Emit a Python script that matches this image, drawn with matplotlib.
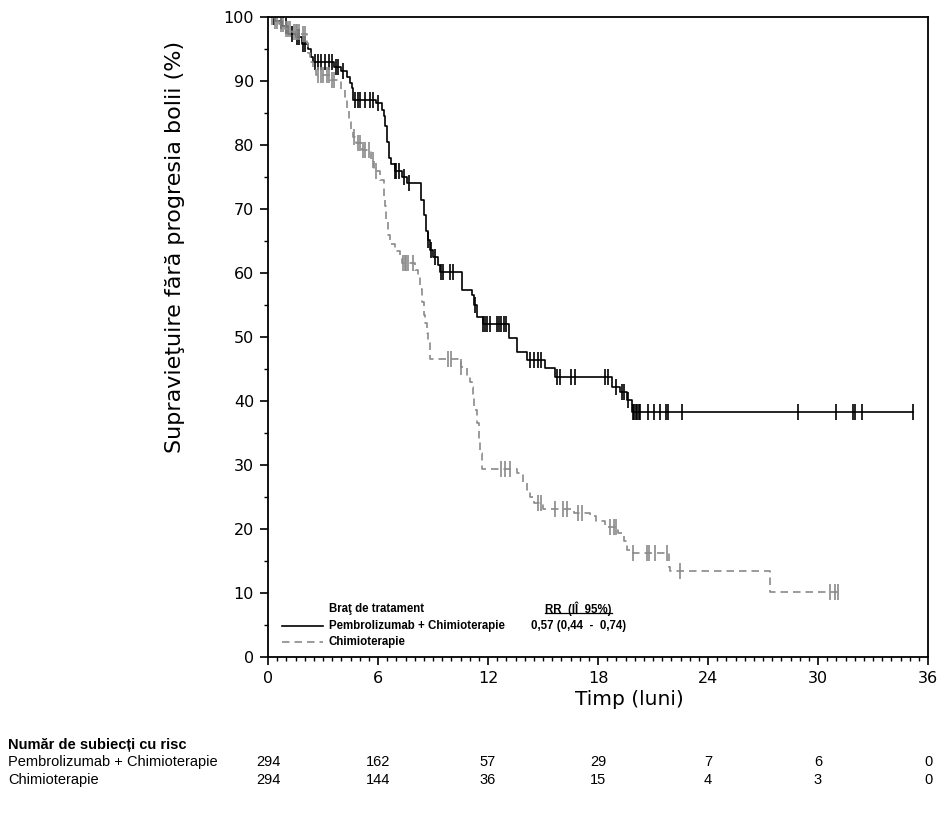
import matplotlib.pyplot as plt
import numpy as np

# Kaplan-Meier steps (time in months, % progression-free)
pem_t = [0, 0.4, 0.75, 1.1, 1.5, 1.84, 2.2, 2.35, 2.45, 3.6, 4.0, 4.3, 4.47, 4.56, 4.65,
         5.9, 6.2, 6.3, 6.4, 6.5, 6.6, 6.7, 6.9, 7.3, 7.6, 8.37, 8.5, 8.6, 8.7, 8.84,
         9.0, 9.29, 9.4, 10.57, 11.1, 11.25, 11.4, 11.7, 13.15, 13.57, 14.1, 15.1,
         15.66, 18.75, 19.2, 19.57, 19.84, 35.2]
pem_s = [100, 99.4, 98.6, 97.3, 96.9, 95.8, 95.0, 93.8, 93.0, 92.2, 91.6, 90.7, 89.7, 88.9, 87.0,
         86.5, 85.5, 84.5, 82.9, 80.5, 78.0, 77.0, 76.0, 75.0, 74.0, 71.4, 69.0, 66.5, 65.2, 63.6,
         62.5, 61.25, 60.2, 57.3, 56.6, 55.0, 53.2, 52.0, 49.8, 47.7, 46.4, 45.1,
         43.8, 42.2, 41.45, 40.2, 38.3, 38.3]
pem_cens = [0.3, 0.7, 1.0, 1.3, 1.6, 1.7, 1.9, 2.0, 2.55, 2.7, 2.9, 3.1, 3.3, 3.5, 3.7, 3.8,
            4.1, 4.75, 4.9, 5.0, 5.3, 5.56, 5.73, 6.0, 6.9, 7.0, 7.15, 7.4, 7.7, 8.75, 8.9,
            9.1, 9.45, 9.55, 9.9, 10.1, 11.3, 11.75, 11.85, 11.95, 12.1, 12.5, 12.6, 12.7,
            12.85, 13.0, 14.3, 14.5, 14.7, 14.9, 15.75, 15.9, 16.55, 16.75, 18.4, 18.55,
            19.0, 19.3, 19.4, 19.65, 19.9, 19.97, 20.05, 20.15, 20.25, 20.3, 20.74, 21.05,
            21.4, 21.7, 21.8, 22.6, 28.9, 31.0, 31.9, 32.0, 32.4, 35.2]

chemo_t = [0, 0.3, 0.6, 0.93, 1.3, 1.8, 2.1, 2.2, 2.3, 2.45, 2.6, 3.4, 4.0, 4.2, 4.3, 4.4,
           4.5, 4.65, 4.8, 5.1, 5.6, 5.8, 6.1, 6.3, 6.4, 6.45, 6.55, 6.65, 6.9, 7.2, 7.3,
           8.0, 8.2, 8.3, 8.4, 8.5, 8.56, 8.66, 8.75, 8.84, 10.5, 10.84, 11.0, 11.1, 11.2,
           11.25, 11.4, 11.5, 11.55, 11.65, 13.6, 13.9, 14.1, 14.3, 14.5, 15.0, 16.7, 17.57,
           17.9, 18.4, 19.1, 19.4, 19.6, 19.75, 21.85, 21.95, 27.4, 31.1]
chemo_s = [100, 99.3, 98.9, 98.1, 97.6, 97.3, 96.0, 94.4, 93.0, 91.7, 91.0, 90.2, 88.6, 87.5, 85.5, 83.8,
           82.3, 81.3, 80.3, 79.2, 77.6, 76.0, 74.5, 72.0, 70.5, 68.5, 66.0, 64.5, 63.5, 62.3, 61.5,
           60.5, 59.5, 57.5, 55.5, 53.5, 52.2, 50.6, 49.0, 46.5, 45.3, 44.0, 43.0, 42.2, 40.6,
           38.6, 36.5, 33.9, 31.9, 29.3, 28.7, 27.4, 26.1, 25.0, 24.0, 23.2, 22.5, 22.0,
           21.2, 20.3, 19.4, 18.1, 16.7, 16.25, 14.1, 13.4, 10.2, 10.2]
chemo_cens = [0.2, 0.4, 0.5, 0.7, 0.8, 1.0, 1.1, 1.2, 1.4, 1.5, 1.6, 1.7, 1.9, 2.0, 2.7, 2.9,
              3.0, 3.2, 3.3, 3.5, 3.6, 4.7, 4.9, 5.0, 5.2, 5.3, 5.5, 5.7, 5.9, 7.35, 7.45, 7.55,
              7.65, 7.9, 9.8, 10.0, 10.55, 12.7, 12.9, 13.2, 14.7, 14.9, 15.66, 16.1, 16.3,
              16.9, 17.1, 18.65, 18.85, 19.0, 19.93, 20.65, 20.8, 21.1, 21.75, 22.48,
              30.66, 30.93, 31.1]

risk_times = [0, 6, 12, 18, 24, 30, 36]
risk_pem = [294, 162, 57, 29, 7, 6, 0]
risk_chemo = [294, 144, 36, 15, 4, 3, 0]

gray = '#8a8a8a'

fig = plt.figure(figsize=(9.46, 8.19), dpi=100)
ax = fig.add_axes([268 / 946, 1 - 657 / 819, 660 / 946, 640 / 819])


def cens_y(t, s, c):
    t = np.asarray(t)
    s = np.asarray(s)
    idx = np.searchsorted(t, c, side='right') - 1
    return s[idx]


ax.step(pem_t, pem_s, where='post', color='black', lw=1.2)
ax.plot(pem_cens, cens_y(pem_t, pem_s, pem_cens), ls='none', marker='|',
        ms=11, mew=1.2, color='black')
ax.step(chemo_t, chemo_s, where='post', color=gray, lw=1.2, dashes=(4.5, 3))
ax.plot(chemo_cens, cens_y(chemo_t, chemo_s, chemo_cens), ls='none', marker='|',
        ms=11, mew=1.2, color=gray)

ax.set_xlim(0, 36)
ax.set_ylim(0, 100)
ax.set_xticks(np.arange(0, 37, 6))
ax.set_xticks(np.arange(0, 36.1, 0.5), minor=True)
ax.set_yticks(np.arange(0, 101, 10))
ax.set_yticks(np.arange(0, 101, 5), minor=True)
ax.tick_params(which='major', length=6, width=1.2, labelsize=11.5, pad=4)
ax.tick_params(which='minor', length=3, width=1.0)
for sp in ax.spines.values():
    sp.set_linewidth(1.3)

ax.set_ylabel('Supravieţuire fără progresia bolii (%)', fontsize=16)
ax.yaxis.set_label_coords(-0.126, 0.64)
ax.set_xlabel('Timp (luni)', fontsize=14.5)
ax.xaxis.set_label_coords(0.547, -0.052)

# legend drawn by hand
lf = ['Liberation Sans Narrow', 'Liberation Sans']
ax.text(0.0924, 0.075, 'Braţ de tratament', transform=ax.transAxes, fontsize=8.3,
        fontweight='bold', family=lf, va='center')
ax.plot([0.0208, 0.0838], [0.0484, 0.0484], transform=ax.transAxes, color='black', lw=1.2)
ax.text(0.0924, 0.0484, 'Pembrolizumab + Chimioterapie', transform=ax.transAxes,
        fontsize=8.3, fontweight='bold', family=lf, va='center')
ax.plot([0.0208, 0.0838], [0.0239, 0.0239], transform=ax.transAxes, color=gray, lw=1.2,
        dashes=(4.5, 3))
ax.text(0.0924, 0.0239, 'Chimioterapie', transform=ax.transAxes, fontsize=8.3,
        fontweight='bold', family=lf, va='center')
ax.text(0.47, 0.075, 'RR  (IÎ  95%)', transform=ax.transAxes, fontsize=8.3,
        fontweight='bold', family=lf, va='center', ha='center')
ax.plot([0.4197, 0.521], [0.0683, 0.0683], transform=ax.transAxes, color='black', lw=0.9)
ax.text(0.47, 0.0484, '0,57 (0,44  -  0,74)', transform=ax.transAxes, fontsize=8.3,
        fontweight='bold', family=lf, va='center', ha='center')

# number at risk table
tf = ['Liberation Sans', 'DejaVu Sans']
trans = ax.get_xaxis_transform()
fig.text(8 / 946, 1 - 745 / 819, 'Număr de subiecți cu risc', fontsize=10.5,
         fontweight='bold', family=tf, va='center')
fig.text(8 / 946, 1 - 762 / 819, 'Pembrolizumab + Chimioterapie', fontsize=10.5,
         family=tf, va='center')
fig.text(8 / 946, 1 - 780 / 819, 'Chimioterapie', fontsize=10.5, family=tf, va='center')
for x, a, b in zip(risk_times, risk_pem, risk_chemo):
    ax.text(x, (657 - 762) / 640, str(a), transform=trans, ha='center', va='center',
            fontsize=10.5, family=tf, clip_on=False)
    ax.text(x, (657 - 780) / 640, str(b), transform=trans, ha='center', va='center',
            fontsize=10.5, family=tf, clip_on=False)

fig.savefig('out.png', dpi=100)
